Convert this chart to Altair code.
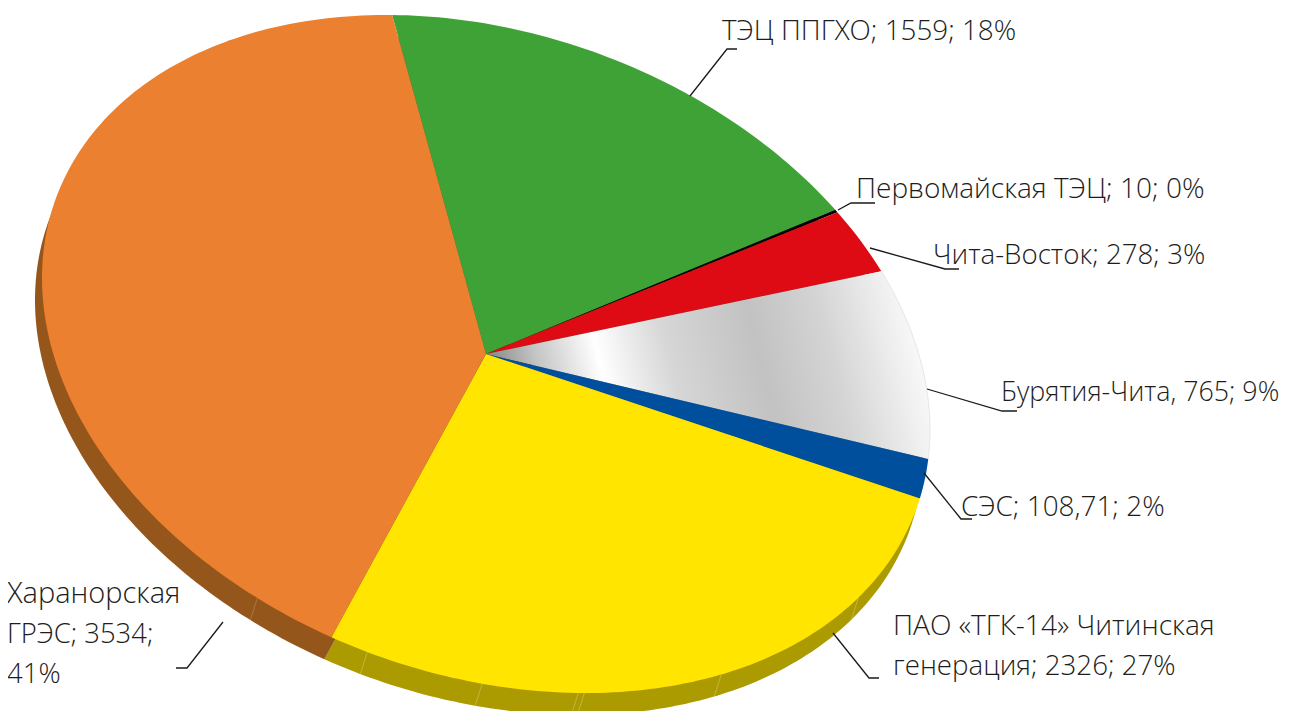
import math
import altair as alt
import pandas as pd

# ---- chart values ----
NAMES = ["ТЭЦ ППГХО", "Первомайская ТЭЦ", "Чита-Восток",
         "Бурятия-Чита", "СЭС", "ПАО «ТГК-14» Читинская генерация", "Харанорская ГРЭС"]
# share of the round actually drawn, percent
SHARES = [17.8, 0.12, 2.95, 8.93, 2.0, 27.25, 40.95]
TOP_COLORS = ["#3fa236", "#000000", "#de0a14", "#cccccc", "#004f9c", "#ffe500", "#ea8030"]
WALL_COLORS = ["#265f20", "#000000", "#840610", "#8a8a8a", "#ab9b00", "#ab9b00", "#95561c"]
START_DEG = -102.2
# tilted-disc geometry
CX, CY = 486.0, 354.0
AX, BX, BY = 76.0, 444.0, 330.4
WALL_DX, WALL_DY = -7.0, 22.0
# seams of the side wall, degrees round the disc
SEAMS = [121, 105.5, 90.5, 78, 77.2, 58, 33]
SEAM_COLOR = ["#b98a5c", "#d2c66a", "#d2c66a", "#d2c66a", "#d2c66a", "#d2c66a", "#d2c66a"]

# text, left edge, baseline, font size
LABEL_LINES = [
    ("ТЭЦ ППГХО; 1559; 18%", 722, 40, 27.8),
    ("Первомайская ТЭЦ; 10; 0%", 856, 198, 28.0),
    ("Чита-Восток; 278; 3%", 933, 264, 27.7),
    ("Бурятия-Чита, 765; 9%", 1001, 401, 26.8),
    ("СЭС; 108,71; 2%", 961, 516, 27.9),
    ("ПАО «ТГК-14» Читинская", 893, 635, 28.1),
    ("генерация; 2326; 27%", 893, 675, 27.7),
    ("Харанорская", 7, 603, 29.0),
    ("ГРЭС; 3534;", 7, 643, 27.4),
    ("41%", 7, 683, 27.5),
]
LEADERS = [
    [(690, 96), (727, 49), (737, 49)],
    [(838, 210), (851, 203), (875, 203)],
    [(870, 248), (945, 269), (959, 269)],
    [(927, 389), (1002, 411), (1017, 411)],
    [(924, 473), (961, 519), (972, 519)],
    [(833, 633), (869, 678), (879, 678)],
    [(223, 622), (187, 668), (176, 668)],
]

W, H = 1275, 703
X_SCALE = alt.Scale(domain=[8, 8 + W], range=[0, W], nice=False, zero=False)
Y_SCALE = alt.Scale(domain=[8, 8 + H], range=[0, H], nice=False, zero=False)
NOAX = None


def disc(t_deg, dx=0.0, dy=0.0):
    t = math.radians(t_deg)
    c, s = math.cos(t), math.sin(t)
    return CX + dx + BX * c, CY + dy + AX * c + BY * s


def arc_points(t0, t1, dx=0.0, dy=0.0):
    n = max(2, int((t1 - t0) / 1.0))
    return [disc(t0 + (t1 - t0) * i / n, dx, dy) for i in range(n + 1)]


def wedge(t0, t1, dx=0.0, dy=0.0):
    return [(CX + dx, CY + dy)] + arc_points(t0, t1, dx, dy) + [(CX + dx, CY + dy)]


def xy():
    return dict(
        x=alt.X("x:Q", scale=X_SCALE, axis=NOAX),
        y=alt.Y("y:Q", scale=Y_SCALE, axis=NOAX),
        order=alt.Order("i:Q"),
    )


def frame(pts):
    return pd.DataFrame([{"x": x, "y": y, "i": i} for i, (x, y) in enumerate(pts)])


def shape(pts, fill):
    return alt.Chart(frame(pts)).mark_line(fill=fill, stroke=None, strokeWidth=0, clip=True).encode(**xy())


total = sum(SHARES)
edges = [START_DEG]
for v in SHARES:
    edges.append(edges[-1] + v / total * 360)

GRADIENT = alt.LinearGradient(
    gradient="linear", x1=0, y1=0.55, x2=1, y2=0.45,
    stops=[
        alt.GradientStop(offset=0.0, color="#808080"),
        alt.GradientStop(offset=0.12, color="#c4c4c4"),
        alt.GradientStop(offset=0.26, color="#ffffff"),
        alt.GradientStop(offset=0.42, color="#d6d6d6"),
        alt.GradientStop(offset=0.62, color="#c2c2c2"),
        alt.GradientStop(offset=0.78, color="#d4d4d4"),
        alt.GradientStop(offset=0.92, color="#eeeeee"),
        alt.GradientStop(offset=1.0, color="#fcfcfc"),
    ],
)

layers = []
for k in range(len(SHARES)):
    layers.append(shape(wedge(edges[k], edges[k + 1], WALL_DX, WALL_DY), WALL_COLORS[k]))

for t, col in zip(SEAMS, SEAM_COLOR):
    layers.append(alt.Chart(frame([disc(t), disc(t, WALL_DX, WALL_DY)])).mark_line(
        color=col, strokeWidth=0.6, clip=True).encode(**xy()))

for k in range(len(SHARES)):
    fill = GRADIENT if NAMES[k] == "Бурятия-Чита" else TOP_COLORS[k]
    layers.append(shape(wedge(edges[k], edges[k + 1]), fill))

white_idx = NAMES.index("Бурятия-Чита")
layers.append(alt.Chart(frame(arc_points(edges[white_idx], edges[white_idx + 1]))).mark_line(
    color="#dddddd", strokeWidth=0.7, clip=True).encode(**xy()))

for pts in LEADERS:
    layers.append(alt.Chart(frame(pts)).mark_line(color="#1a1a1a", strokeWidth=1.3, clip=True).encode(**xy()))

rows = [{"t": t, "x": x, "y": y, "s": s} for t, x, y, s in LABEL_LINES]
text = alt.Chart(pd.DataFrame(rows)).mark_text(
    align="left", baseline="alphabetic", font="Open Sans", fontWeight=300, color="#1d1d1b"
).encode(
    x=alt.X("x:Q", scale=X_SCALE, axis=NOAX),
    y=alt.Y("y:Q", scale=Y_SCALE, axis=NOAX),
    size=alt.Size("s:Q", scale=None),
    text="t:N",
)
layers.append(text)

chart = alt.layer(*layers).properties(
    width=W, height=H, padding=0, autosize=alt.AutoSizeParams(type="none")
).configure_view(stroke=None).resolve_scale(x="shared", y="shared")

chart.save("out.html", embed_options={"renderer": "svg", "actions": False})
